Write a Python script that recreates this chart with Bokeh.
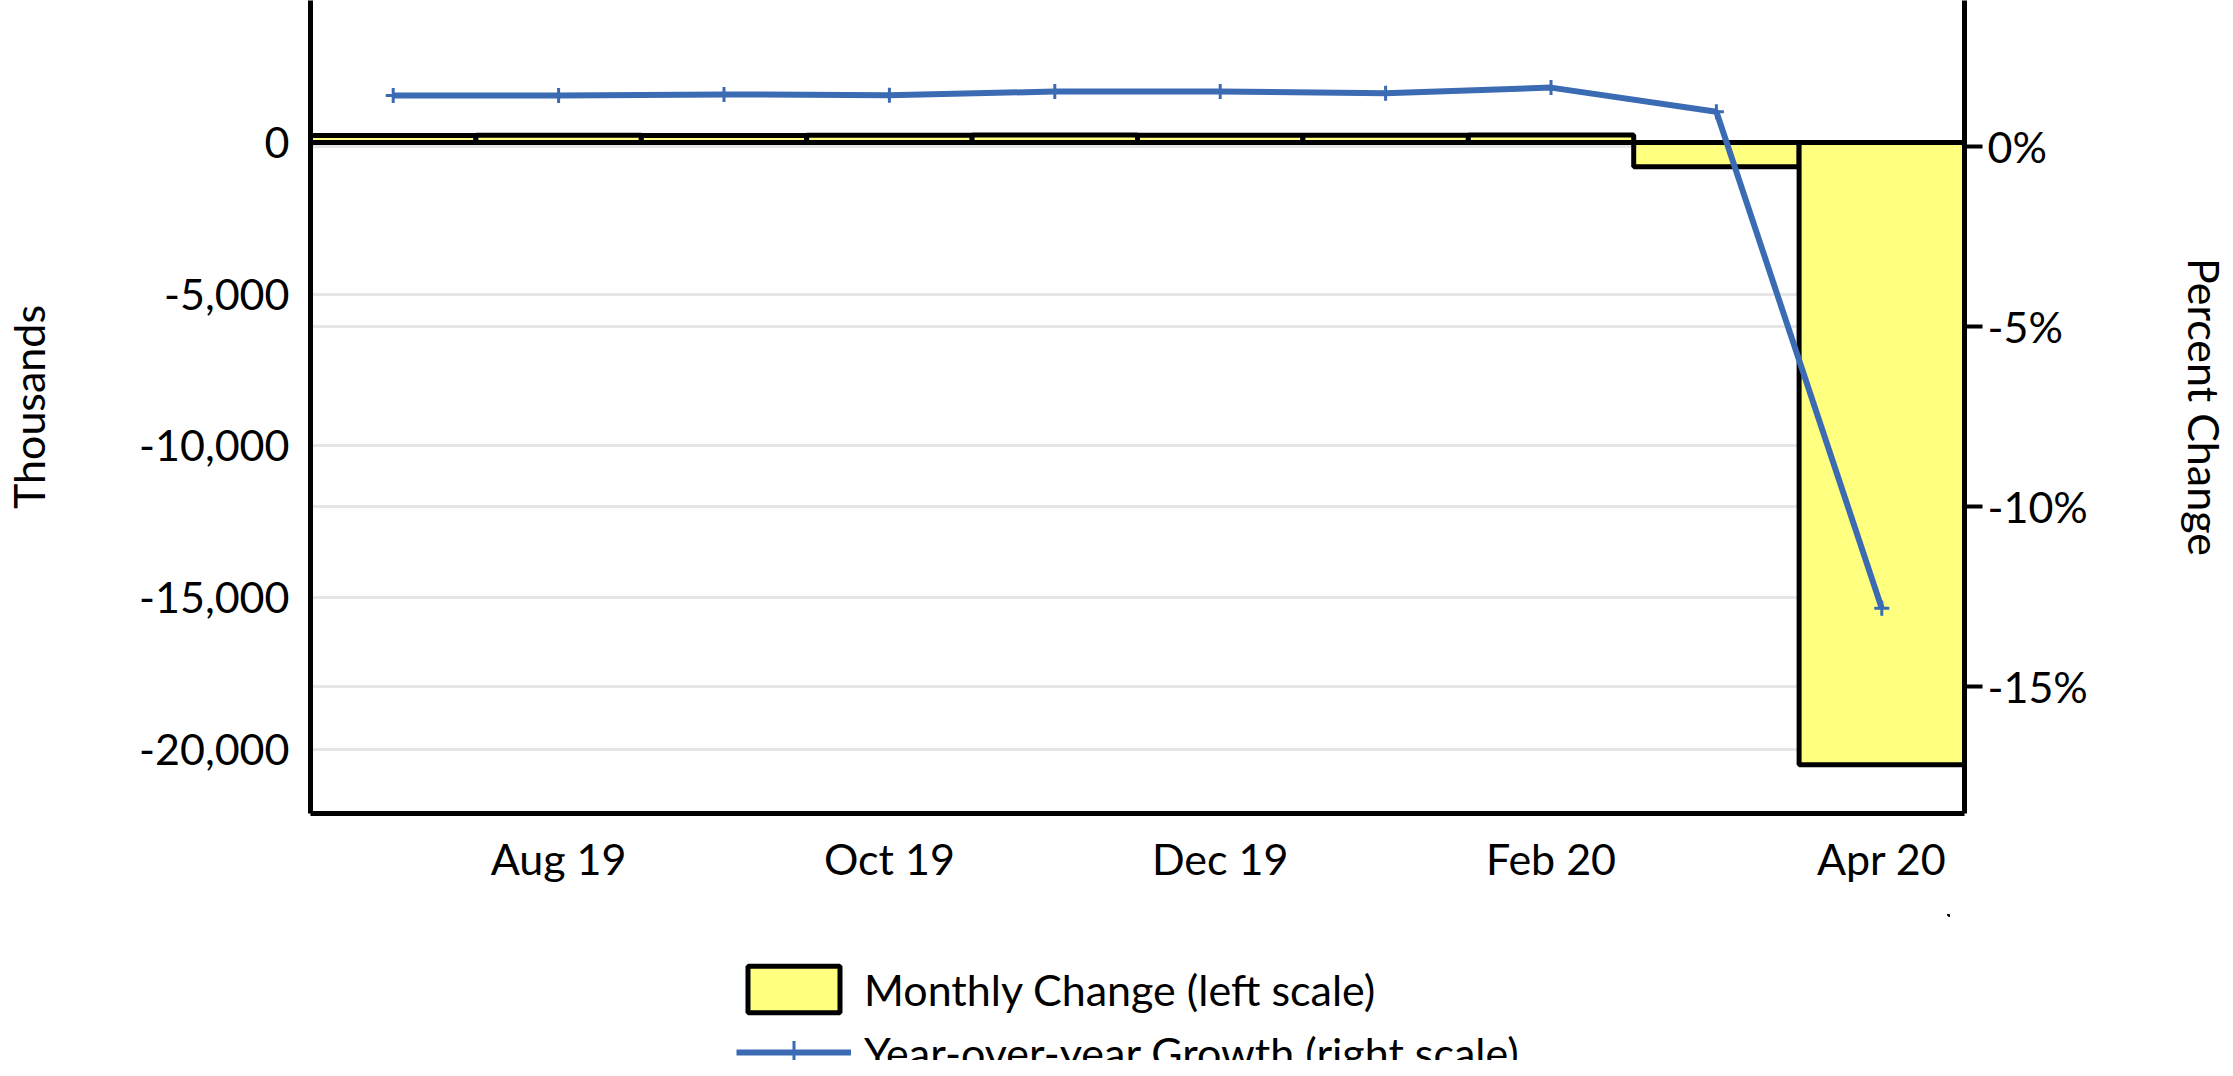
from bokeh.plotting import figure
from bokeh.models import (Range1d, LinearAxis, FixedTicker, NumeralTickFormatter,
                          PrintfTickFormatter, Grid, Legend, LegendItem, ColumnDataSource)
from bokeh.layouts import column
from bokeh.embed import file_html
from bokeh.resources import INLINE

# ---- data ----
months = ["Jul 19", "Aug 19", "Sep 19", "Oct 19", "Nov 19", "Dec 19",
          "Jan 20", "Feb 20", "Mar 20", "Apr 20"]
monthly_change = [230, 240, 230, 240, 250, 240, 240, 250, -800, -20500]   # thousands
yoy_growth = [1.42, 1.42, 1.45, 1.43, 1.53, 1.53, 1.48, 1.64, 0.97, -12.83]  # percent
left_ticks = [0, -5000, -10000, -15000, -20000]
right_ticks = [0, -5, -10, -15]
label_idx = [1, 3, 5, 7, 9]

FONT = "Lato"
FS = "43px"
BAR_FILL = "#FFFF80"
LINE_COL = "#3A6BB3"

idx = list(range(len(months)))
src = ColumnDataSource(dict(x=idx, chg=monthly_change, yoy=yoy_growth))

FW, FH = 1654, 813
BL, BR, BB = 310, 253, 101

p = figure(frame_width=FW, frame_height=FH,
           x_range=Range1d(-0.5, 9.5), y_range=Range1d(-22109, 4679),
           output_backend="svg", toolbar_location=None,
           min_border_left=BL, min_border_right=BR,
           min_border_top=0, min_border_bottom=BB)
p.title.visible = False
p.extra_y_ranges = {"pct": Range1d(-18.53, 4.06)}
p.outline_line_color = None
p.background_fill_color = "white"
p.border_fill_color = "white"

# grids
p.xgrid.visible = False
p.ygrid.ticker = FixedTicker(ticks=left_ticks)
p.ygrid.grid_line_color = "#e6e6e6"
p.ygrid.grid_line_width = 3
rgrid = Grid(dimension=1, ticker=FixedTicker(ticks=right_ticks), y_range_name="pct",
             grid_line_color="#e6e6e6", grid_line_width=3)
p.add_layout(rgrid)

# bars
p.vbar(x="x", top="chg", bottom=0, width=1, source=src,
       fill_color=BAR_FILL, line_color="black", line_width=5)

# line
p.line(x="x", y="yoy", source=src, y_range_name="pct",
       line_color=LINE_COL, line_width=6)
p.scatter(x="x", y="yoy", source=src, y_range_name="pct", marker="cross",
          size=15, line_color=LINE_COL, line_width=3)

# left axis
ya = p.yaxis[0]
ya.ticker = FixedTicker(ticks=left_ticks)
ya.formatter = NumeralTickFormatter(format="0,0")
ya.axis_line_width = 5
ya.axis_line_color = "black"
ya.major_tick_line_color = None
ya.minor_tick_line_color = None
ya.major_tick_out = 0
ya.major_tick_in = 0
ya.major_label_standoff = 21
ya.major_label_text_font = FONT
ya.major_label_text_font_size = FS
ya.major_label_text_color = "black"
ya.axis_label = "Thousands"
ya.axis_label_text_font = FONT
ya.axis_label_text_font_size = FS
ya.axis_label_text_font_style = "normal"
ya.axis_label_text_color = "black"
ya.axis_label_standoff = 82

# bottom axis
xa = p.xaxis[0]
xa.ticker = FixedTicker(ticks=label_idx)
xa.major_label_overrides = {i: months[i] for i in label_idx}
xa.axis_line_width = 5
xa.axis_line_color = "black"
xa.major_tick_line_color = None
xa.minor_tick_line_color = None
xa.major_tick_out = 0
xa.major_tick_in = 0
xa.major_label_standoff = 19
xa.major_label_text_font = FONT
xa.major_label_text_font_size = FS
xa.major_label_text_color = "black"

# right axis
ra = LinearAxis(y_range_name="pct", ticker=FixedTicker(ticks=right_ticks),
                formatter=PrintfTickFormatter(format="%d%%"))
ra.axis_line_width = 5
ra.axis_line_color = "black"
ra.major_tick_line_width = 4
ra.major_tick_line_color = "black"
ra.major_tick_out = 18
ra.major_tick_in = 0
ra.minor_tick_line_color = None
ra.major_label_standoff = 5
ra.major_label_text_font = FONT
ra.major_label_text_font_size = FS
ra.major_label_text_color = "black"
ra.axis_label = "Percent Change"
ra.axis_label_text_font = FONT
ra.axis_label_text_font_size = FS
ra.axis_label_text_font_style = "normal"
ra.axis_label_text_color = "black"
ra.axis_label_standoff = 88
p.add_layout(ra, "right")

# ---- legend strip below the chart ----
W = BL + FW + BR
HB = 1060 - (FH + BB)
q = figure(width=W, height=HB, x_range=Range1d(-100000 - W, -100000),
           y_range=Range1d(-100000 - HB, -100000),
           output_backend="svg", toolbar_location=None,
           min_border_left=0, min_border_right=0, min_border_top=0, min_border_bottom=0,
           x_axis_location=None, y_axis_location=None)
q.title.visible = False
q.outline_line_color = None
q.xgrid.visible = False
q.ygrid.visible = False
q.background_fill_color = "white"
q.border_fill_color = "white"
# same series (outside this strip's view; used only for the legend keys)
lb = q.vbar(x="x", top="chg", bottom=0, width=1, source=src,
            fill_color=BAR_FILL, line_color="black", line_width=5)
ll = q.line(x="x", y="yoy", source=src, line_color=LINE_COL, line_width=6)
lm = q.scatter(x="x", y="yoy", source=src, marker="cross", size=15,
               line_color=LINE_COL, line_width=3)

legend = Legend(items=[LegendItem(label="Monthly Change (left scale)", renderers=[lb]),
                       LegendItem(label="Year-over-year Growth (right scale)", renderers=[ll, lm])],
                location=(426, -21), orientation="vertical",
                glyph_width=115, glyph_height=58, spacing=5, label_standoff=13,
                label_text_font=FONT, label_text_font_size=FS, label_text_color="black",
                border_line_color=None, background_fill_alpha=0, padding=0, margin=0)
q.add_layout(legend)

layout = column(p, q, spacing=0)
open("out.html", "w").write(file_html(layout, INLINE))
